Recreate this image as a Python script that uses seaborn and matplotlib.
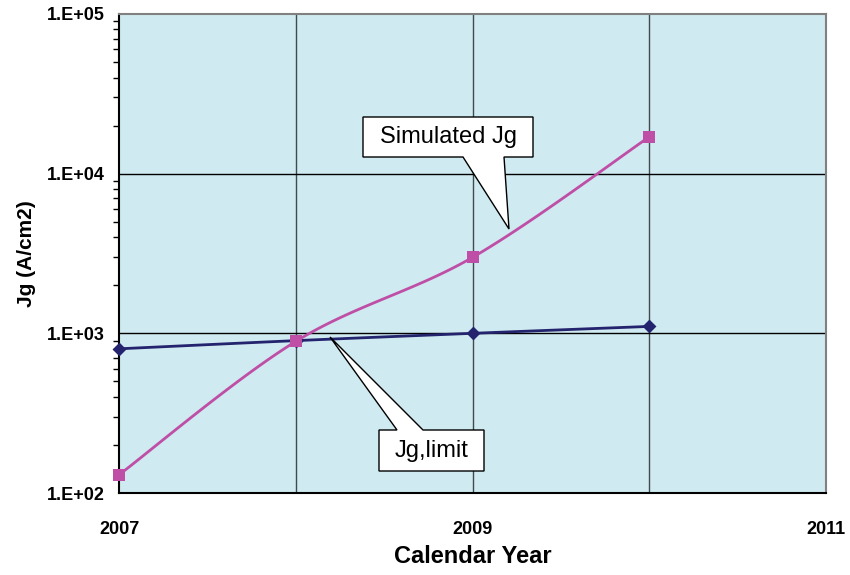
import numpy as np
import pandas as pd
import matplotlib
matplotlib.use("Agg")
import matplotlib.pyplot as plt
from matplotlib.patches import Polygon
from matplotlib.ticker import FixedLocator, LogLocator, NullFormatter, FixedFormatter
import seaborn as sns

# ---- data ----
years = [2007, 2008, 2009, 2010]
simulated_jg = [130, 890, 2990, 17000]
jg_limit = [800, 900, 1000, 1105]
xtick_values = [2007, 2008, 2009, 2010, 2011]
xtick_labels = ["2007", "", "2009", "", "2011"]
ytick_values = [1e2, 1e3, 1e4, 1e5]
ytick_labels = ["1.E+02", "1.E+03", "1.E+04", "1.E+05"]

sns.set_theme(style="white")
plt.rcParams['font.family'] = ['Liberation Sans', 'DejaVu Sans']
plt.rcParams.update({"text.color": "black", "axes.labelcolor": "black",
                     "xtick.color": "black", "ytick.color": "black"})

W, H = 850, 575
fig = plt.figure(figsize=(W / 100, H / 100), dpi=100)
ax = fig.add_axes([119 / W, 1 - 493 / H, (826 - 119) / W, (493 - 14) / H])
ax.set_facecolor("#cfeaf0")


def smooth(xs, ys, n=40):
    """Excel-style smoothed line (Catmull-Rom / Bezier) in (x, log10 y)."""
    xs = np.asarray(xs, float)
    ly = np.log10(np.asarray(ys, float))
    P = np.column_stack([xs, ly])
    P = np.vstack([P[0], P, P[-1]])
    out = []
    for i in range(1, len(P) - 2):
        p0, p1, p2, p3 = P[i - 1], P[i], P[i + 1], P[i + 2]
        c1 = p1 + (p2 - p0) / 6
        c2 = p2 - (p3 - p1) / 6
        t = np.linspace(0, 1, n)[:, None]
        b = ((1 - t) ** 3) * p1 + 3 * ((1 - t) ** 2) * t * c1 + 3 * (1 - t) * t ** 2 * c2 + t ** 3 * p2
        out.append(b if i == 1 else b[1:])
    out = np.vstack(out)
    return out[:, 0], 10 ** out[:, 1]


magenta = "#bf4fa6"
navy = "#23236e"

# grid lines
for xv in [2008, 2009, 2010]:
    ax.axvline(xv, color="#3f4b4f", lw=1.0, zorder=1)
for yv in [1e3, 1e4]:
    ax.axhline(yv, color="black", lw=1.0, zorder=1)

df = pd.DataFrame({"year": years, "sim": simulated_jg, "lim": jg_limit})

lx, ly = smooth(years, jg_limit)
ax.plot(lx, ly, color=navy, lw=2.0, zorder=3)
sx, sy = smooth(years, simulated_jg)
ax.plot(sx, sy, color=magenta, lw=2.0, zorder=3)

sns.scatterplot(data=df, x="year", y="lim", marker="D", s=50, color=navy,
                edgecolor=navy, linewidth=0, ax=ax, zorder=4)
sns.scatterplot(data=df, x="year", y="sim", marker="s", s=70, color=magenta,
                edgecolor=magenta, linewidth=0, ax=ax, zorder=5)
for coll in ax.collections:
    coll.set_clip_on(False)

ax.set_yscale("log")
ax.set_xlim(2007, 2011)
ax.set_ylim(1e2, 1e5)

ax.xaxis.set_major_locator(FixedLocator(xtick_values))
ax.xaxis.set_major_formatter(FixedFormatter(xtick_labels))
ax.yaxis.set_major_locator(FixedLocator(ytick_values))
ax.yaxis.set_major_formatter(FixedFormatter(ytick_labels))
ax.yaxis.set_minor_locator(LogLocator(base=10, subs=np.arange(2, 10)))
ax.yaxis.set_minor_formatter(NullFormatter())

ax.tick_params(axis="x", which="major", direction="out", length=7, width=1.2,
               color="black", labelcolor="black", pad=13, labelsize=13)
ax.tick_params(axis="y", which="major", direction="out", length=7, width=1.2,
               color="black", labelcolor="black", pad=3, labelsize=13)
ax.tick_params(axis="y", which="minor", direction="out", length=4, width=1.0,
               color="black", left=True)
for lab in ax.get_xticklabels() + ax.get_yticklabels():
    lab.set_fontweight("bold")

ax.set_xlabel("Calendar Year", fontsize=17, fontweight="bold", labelpad=5,
              color="black")
ax.set_ylabel("Jg (A/cm2)", fontsize=15, fontweight="bold", labelpad=8,
              color="black")

for s in ["left", "bottom"]:
    ax.spines[s].set_color("black")
    ax.spines[s].set_linewidth(1.5)
for s in ["top", "right"]:
    ax.spines[s].set_color("#808080")
    ax.spines[s].set_linewidth(1.5)
    ax.spines[s].set_visible(True)


def px(pts):
    return [(x / W, 1 - y / H) for x, y in pts]


callout1 = [(363, 117), (533, 117), (533, 157), (504, 157), (509, 229), (463, 157), (363, 157)]
callout2 = [(379, 430), (397, 430), (330, 337), (423, 430), (484, 430), (484, 471), (379, 471)]
for poly in (callout1, callout2):
    fig.patches.append(Polygon(px(poly), closed=True, facecolor="white",
                               edgecolor="black", lw=1.0,
                               transform=fig.transFigure, zorder=10))

fig.text(448 / W, 1 - 137 / H, "Simulated Jg", fontsize=17, ha="center",
         va="center", color="black", zorder=11)
fig.text(431.5 / W, 1 - 451 / H, "Jg,limit", fontsize=17, ha="center",
         va="center", color="black", zorder=11)

fig.savefig("out.png", dpi=100)
